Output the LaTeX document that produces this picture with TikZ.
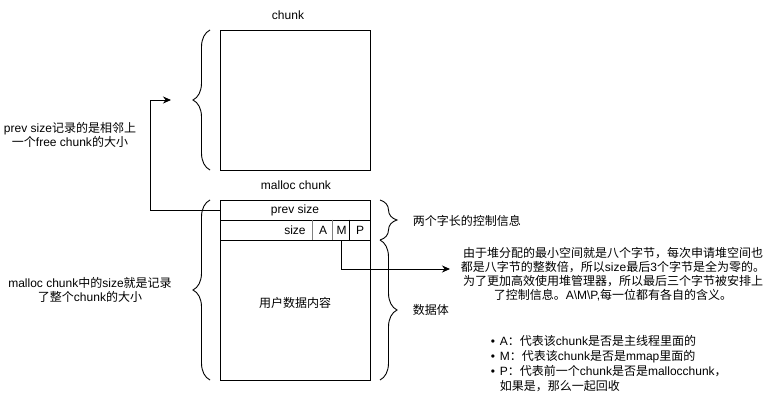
\documentclass[tikz,border=0pt]{standalone}
\usepackage{fontspec}
\setmainfont{Liberation Sans}
\newfontfamily\cjk{Noto Sans CJK SC}
\newcommand{\zh}[1]{{\cjk #1}}
\usetikzlibrary{arrows.meta,decorations.pathreplacing,positioning}

\tikzset{
  cell/.style={draw, minimum height=20, inner sep=0pt},
  bit/.style={minimum height=20, inner sep=0pt},
  brc/.style={decorate, decoration={brace, amplitude=17pt}},
  arr/.style={-{Stealth[length=8pt,width=7pt]}},
  lbl/.style={align=center},
}

\begin{document}
\begin{tikzpicture}[x=1pt, y=-1pt, line width=0.9pt, font=\fontsize{12}{14.5}\selectfont]
        \useasboundingbox (0,0) rectangle (771,401);

        % free chunk on top
        \node[lbl] (chunkt) at (288,15) {chunk};
        \node[draw, minimum width=150, minimum height=140] (chunk) at (295,100) {};
        \draw[brc] (210,170) -- (210,30);
        \coordinate (ptarget) at (171,100);
        \node[lbl] (prevnote) at (70,135) {prev size\zh{记录的是相邻上}\\\zh{一个}free chunk\zh{的大小}};

        % malloc chunk
        \node[lbl] (malloct) at (296,185) {malloc chunk};
        \node[cell, minimum width=150] (prev) at (295,210) {prev size};
        \node[cell, minimum width=150] (sizerow) at (295,230) {};
        \node (sizet) at (295,230) {size};
        \node[bit, minimum width=20] (abit) at (323,230) {A};
        \node[bit, minimum width=17] (mbit) at (341.5,230) {M};
        \node[bit, minimum width=20] (pbit) at (360,230) {P};
        \draw[gray] (abit.north west) -- (abit.south west);
        \draw[gray] (mbit.north west) -- (mbit.south west);
        \draw (pbit.north west) -- (pbit.south west);
        \node[draw, minimum width=150, minimum height=140] (body) at (295,310) {};
        \node (bodyt) at (295,303) {\zh{用户数据内容}};

        % braces and their labels
        \draw[brc] (210,380) -- (210,200);
        \draw[brc] (380,200) -- (380,240);
        \draw[brc] (380,240) -- (380,380);
        \node[lbl] (sizenote) at (90,290) {malloc chunk\zh{中的}size\zh{就是记录}\\\zh{了整个}chunk\zh{的大小}};
        \node[anchor=west] (ctrl) at (409,221) {\zh{两个字长的控制信息}};
        \node[anchor=west] (data) at (409,310) {\zh{数据体}};

        % arrows
        \draw[arr] (prev.west) -- ++(-69,0) |- (ptarget);
        \coordinate (notein) at (450,269);
        \draw[arr] (mbit.south) |- (notein);

        % notes on the right
        \node[lbl, font=\fontsize{12}{14}\selectfont] (note) at (613,274) {\zh{由于堆分配的最小空间就是八个字节，每次申请堆空间也}\\
            \zh{都是八字节的整数倍，所以}size\zh{最后}3\zh{个字节是全为零的。}\\
            \zh{为了更加高效使用堆管理器，所以最后三个字节被安排上}\\
            \zh{了控制信息。}A\textbackslash M\textbackslash P,\zh{每一位都有各自的含义。}};
        \node[align=left, anchor=north west, font=\fontsize{12}{15}\selectfont] (bits) at (487,332) {%
            \textbullet\hspace{5pt}A\zh{：代表该}chunk\zh{是否是主线程里面的}\\
            \textbullet\hspace{5pt}M\zh{：代表该}chunk\zh{是否是}mmap\zh{里面的}\\
            \textbullet\hspace{5pt}P\zh{：代表前一个}chunk\zh{是否是}mallocchunk\zh{，}\\
            \hphantom{\textbullet\hspace{5pt}}\zh{如果是，那么一起回收}};
\end{tikzpicture}
\end{document}
